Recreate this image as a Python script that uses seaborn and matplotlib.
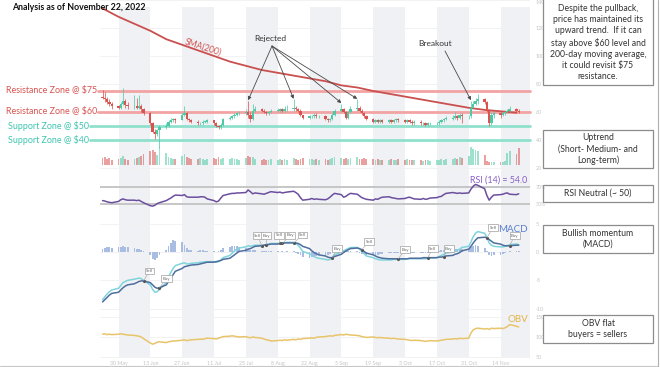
import numpy as np
import pandas as pd
import seaborn as sns
import matplotlib.pyplot as plt
from matplotlib.patches import Rectangle

W, H = 660, 367

# ---- data (one row = one trading week) ----
dates = pd.bdate_range("2022-05-23", "2022-11-22")
first_open = 71
closes = [70, 69, 67, 66, 64,  63, 66, 68, 65, 64,  64, 63, 64, 62, 59,
          52, 46, 44, 47, 49,  50, 53, 54, 55, 54,  58, 59, 55, 54, 53,
          52, 52, 53, 53, 54,  52, 50, 49, 51, 55,  56, 57, 58, 59, 59,
          60, 58, 55, 61, 62,  61, 60, 59, 60, 61,  61, 62, 61, 62, 62,
          63, 62, 61, 58, 56,  57, 57, 58, 57, 57,  55, 54, 55, 58, 61,
          62, 60, 56, 60, 62,  63, 61, 59, 57, 55,  53, 54, 53, 54, 53,
          54, 53, 54, 55, 54,  53, 54, 53, 52, 53,  52, 52, 51, 52, 52,
          52, 53, 54, 55, 55,  56, 57, 56, 58, 57,  57, 63, 66, 68, 69,
          67, 61, 52, 58, 59,  58, 59, 60, 61, 62,  61, 60]
highs = [76, 74, 71, 69, 67,  65, 67, 77, 69, 67,  72, 70, 72, 66, 63,
         60, 53, 48, 48, 51,  52, 54, 56, 56, 56,  59, 64, 60, 56, 55,
         54, 53, 54, 54, 55,  54, 53, 51, 52, 56,  57, 58, 59, 60, 61,
         62, 68, 60, 66, 64,  63, 62, 61, 61, 62,  63, 63, 63, 64, 65,
         69, 64, 63, 62, 58,  58, 58, 59, 59, 58,  58, 56, 56, 59, 62,
         66, 63, 61, 61, 64,  69, 64, 62, 60, 58,  56, 55, 55, 55, 55,
         55, 55, 55, 56, 56,  55, 55, 55, 54, 54,  54, 53, 53, 53, 53,
         53, 54, 55, 56, 57,  58, 60, 58, 59, 59,  58, 68, 68, 70, 73,
         70, 68, 62, 60, 61,  60, 60, 61, 62, 64,  63, 62]
lows = [69, 67, 66, 64, 62,  62, 62, 65, 63, 62,  62, 62, 62, 60, 58,
        51, 45, 41, 43, 34,  48, 49, 52, 53, 52,  54, 57, 54, 53, 52,
        51, 51, 51, 52, 52,  51, 49, 48, 48, 50,  54, 55, 56, 57, 58,
        58, 56, 53, 54, 60,  60, 59, 58, 58, 59,  60, 60, 60, 60, 61,
        61, 61, 60, 57, 55,  55, 56, 56, 56, 56,  54, 53, 53, 54, 57,
        60, 59, 55, 55, 59,  61, 60, 58, 56, 54,  52, 52, 52, 52, 52,
        52, 52, 52, 53, 53,  52, 52, 52, 51, 51,  51, 51, 50, 50, 51,
        51, 51, 52, 53, 54,  54, 55, 54, 55, 52,  55, 56, 62, 65, 66,
        66, 60, 50, 51, 56,  56, 57, 58, 59, 60,  59, 59]
volume = [7, 8, 6, 7, 5,  6, 7, 9, 6, 5,  6, 7, 8, 9, 11,  14, 15, 13, 10, 18,
          12, 8, 7, 6, 6,  9, 11, 8, 7, 6,  6, 7, 6, 5, 6,  7, 6, 8, 6, 7,
          6, 7, 6, 6, 5,  7, 9, 8, 8, 6,  5, 6, 5, 5, 6,  5, 6, 5, 6, 5,
          7, 6, 5, 6, 7,  6, 6, 5, 6, 5,  6, 5, 6, 7, 8,  7, 6, 7, 6, 7,
          8, 6, 6, 7, 6,  6, 5, 6, 5, 5,  5, 6, 5, 5, 6,  5, 6, 5, 5, 5,
          5, 4, 5, 5, 4,  5, 5, 6, 5, 6,  6, 7, 6, 8, 7,  9, 18, 16, 15, 14,
          10, 4, 3, 3, 3,  3, 3, 4, 12, 14,  11, 17]
rsi = [38, 37, 35, 34, 33,  36, 40, 42, 40, 39,  39, 38, 39, 36, 33,
       26, 25, 27, 31, 33,  38, 41, 44, 48, 51,  50, 52, 47, 46, 46,
       46, 47, 47, 46, 42,  38, 35, 37, 44, 50,  54, 55, 55, 56, 56,
       57, 63, 59, 54, 56,  54, 53, 55, 57, 59,  57, 58, 56, 57, 58,
       60, 57, 53, 45, 39,  41, 43, 41, 42, 41,  40, 42, 46, 51, 55,
       52, 46, 48, 52, 55,  53, 49, 45, 43, 41,  39, 42, 41, 44, 46,
       47, 45, 44, 43, 42,  43, 45, 46, 44, 42,  41, 43, 41, 42, 44,
       45, 47, 48, 52, 55,  57, 56, 55, 56, 55,  56, 65, 72, 76, 74,
       66, 50, 39, 46, 51,  52, 53, 55, 56, 53,  52, 54]
macd = [-8.4, -7.9, -7.4, -7.0, -6.7,  -6.4, -5.9, -5.4, -5.2, -5.0,
        -4.8, -4.7, -4.6, -4.7, -5.0,  -5.8, -6.6, -7.1, -7.0, -6.6,
        -5.4, -4.4, -3.6, -2.9, -2.4,  -2.0, -1.9, -2.1, -2.1, -2.0,
        -1.9, -1.8, -1.8, -1.7, -1.7,  -1.7, -1.8, -1.7, -1.4, -1.0,
        -0.6, -0.2, 0.2, 0.5, 0.7,  0.9, 1.1, 1.0, 1.1, 1.2,
        1.2, 1.2, 1.3, 1.4, 1.5,  1.5, 1.5, 1.6, 1.6, 1.7,
        1.7, 1.5, 1.2, 0.7, 0.1,  -0.3, -0.6, -0.8, -1.0, -1.1,
        -1.3, -1.4, -1.3, -1.0, -0.5,  0.0, 0.2, 0.4, 0.6, 0.8,
        0.8, 0.5, 0.1, -0.3, -0.7,  -1.0, -1.2, -1.3, -1.4, -1.4,
        -1.4, -1.4, -1.3, -1.3, -1.3,  -1.3, -1.2, -1.2, -1.2, -1.2,
        -1.2, -1.2, -1.2, -1.1, -1.1,  -1.0, -0.8, -0.6, -0.4, -0.2,
        0.0, 0.2, 0.3, 0.5, 0.8,  1.0, 1.8, 2.7, 3.3, 3.6,
        3.3, 2.6, 1.6, 1.2, 1.0,  0.9, 0.9, 1.0, 1.1, 1.3,  1.4, 1.3]
signal = [-8.8, -8.4, -8.0, -7.6, -7.3,  -7.1, -6.7, -6.3, -6.0, -5.8,
          -5.6, -5.4, -5.2, -5.1, -5.1,  -5.4, -5.8, -6.2, -6.4, -6.3,
          -5.8, -5.2, -4.6, -4.0, -3.4,  -2.9, -2.6, -2.5, -2.4, -2.3,
          -2.2, -2.1, -2.0, -1.9, -1.8,  -1.8, -1.7, -1.6, -1.5, -1.3,
          -1.1, -0.8, -0.5, -0.2, 0.1,  0.3, 0.5, 0.6, 0.8, 1.0,
          1.1, 1.2, 1.3, 1.3, 1.4,  1.4, 1.5, 1.5, 1.6, 1.6,
          1.6, 1.6, 1.5, 1.3, 1.0,  0.6, 0.2, -0.1, -0.3, -0.5,
          -0.7, -0.9, -1.0, -1.0, -0.8,  -0.4, -0.1, 0.2, 0.4, 0.6,
          0.7, 0.6, 0.4, 0.1, -0.2,  -0.5, -0.7, -0.9, -1.0, -1.1,
          -1.2, -1.2, -1.2, -1.2, -1.2,  -1.2, -1.2, -1.1, -1.1, -1.1,
          -1.1, -1.0, -1.0, -1.0, -1.0,  -1.0, -0.9, -0.9, -0.8, -0.7,
          -0.6, -0.4, -0.3, -0.1, 0.2,  0.5, 1.0, 1.6, 2.1, 2.5,
          2.6, 2.5, 2.2, 1.9, 1.6,  1.4, 1.2, 1.1, 1.1, 1.1,  1.2, 1.2]
hist = [0.6, 0.7, 0.8, 0.8, 0.7,  0.8, 0.9, 1.0, 0.9, 0.8,  0.7, 0.6, 0.5, 0.3, 0.1,
        -0.6, -1.2, -1.4, -1.1, -0.6,  0.3, 1.0, 1.6, 2.1, 2.0,  1.7, 1.3, 0.7, 0.4, 0.3,
        0.2, 0.3, 0.3, 0.2, 0.2,  0.1, 0.0, 0.2, 0.4, 0.7,  0.9, 1.0, 1.1, 1.0, 0.9,
        0.7, 0.6, 0.4, 0.3, 0.3,  0.2, 0.1, 0.1, 0.1, 0.1,  0.1, 0.0, 0.1, 0.0, 0.1,
        0.1, -0.1, -0.3, -0.6, -0.9,  -1.0, -0.9, -0.8, -0.7, -0.6,  -0.6, -0.5, -0.3, 0.0, 0.3,
        0.4, 0.3, 0.2, 0.2, 0.2,  0.1, -0.1, -0.3, -0.4, -0.5,  -0.6, -0.6, -0.5, -0.4, -0.3,
        -0.2, -0.2, -0.1, -0.1, -0.1,  -0.1, 0.0, -0.1, -0.1, -0.1,  -0.1, -0.2, -0.2, -0.1, -0.1,
        0.0, 0.1, 0.3, 0.4, 0.5,  0.6, 0.6, 0.6, 0.6, 0.6,  0.5, 0.8, 1.1, 1.2, 1.1,
        0.7, 0.1, -0.6, -0.7, -0.6,  -0.5, -0.3, -0.1, 0.0, 0.2,  0.2, 0.1]
obv = [107, 108, 106, 107, 106,  107, 108, 107, 106, 105,  104, 103, 102, 100, 96,
       85, 82, 84, 87, 88,  86, 88, 89, 90, 90,  92, 93, 91, 92, 93,
       94, 95, 94, 96, 97,  96, 95, 97, 99, 101,  102, 103, 102, 101, 100,
       101, 99, 98, 100, 99,  97, 95, 93, 92, 90,  91, 92, 91, 93, 92,
       94, 93, 95, 94, 96,  97, 98, 97, 99, 100,  101, 102, 103, 102, 104,
       106, 105, 107, 106, 105,  104, 103, 101, 100, 99,  100, 99, 98, 99, 98,
       97, 96, 97, 96, 95,  94, 93, 92, 91, 92,  91, 90, 89, 90, 91,
       90, 91, 92, 93, 94,  95, 96, 95, 97, 96,  97, 110, 118, 121, 122,
       120, 121, 119, 122, 121,  122, 121, 123, 126, 131,  127, 125]
sma_dates = pd.date_range("2022-05-23", periods=27, freq="7D")
sma200 = [134, 128, 123, 118, 112, 108, 104, 100, 96, 93, 90, 88, 86, 84,
          82, 79, 77.5, 75, 73, 71, 69, 67, 65, 63, 61.5, 60.5, 59.5]

zone_levels = [75, 60, 50, 40]
zone_labels = ["Resistance Zone @ $75", "Resistance Zone @ $60",
               "Support Zone @ $50", "Support Zone @ $40"]
# MACD crossover flags: (day index, label, box offset x px, box offset y px)
flags = [(14, "Sell", 6, 10), (19, "Buy", 7, 9), (50, "Sell", -4, 10),
         (52, "Buy", 0, 9), (56, "Sell", -1, 8), (57, "Buy", 8, 8),
         (60, "Sell", 9, 8), (73, "Buy", 5, 9), (82, "Sell", 7, 8),
         (94, "Buy", 7, 9), (103, "Sell", 5, 9), (108, "Buy", 5, 8),
         (121, "Sell", 6, 10), (129, "Buy", 5, 10)]
rejected_idx = [46, 60, 75, 80]
breakout_idx = 116

notes = [(-2, 85, "Despite the pullback,\nprice has maintained its\nupward trend.  If it can\n"
                  "stay above $60 level and\n200-day moving average,\nit could revisit $75\nresistance."),
         (130, 168, "Uptrend\n(Short- Medium- and\nLong-term)"),
         (185, 202, "RSI Neutral (~ 50)"),
         (225, 253, "Bullish momentum\n(MACD)"),
         (315, 343, "OBV flat\nbuyers = sellers")]

# ---- styling ----
sns.set_theme(style="white")
plt.rcParams["font.family"] = ["Lato", "DejaVu Sans"]

GREEN, RED = "#4fc9a4", "#d9534f"
TICK = "#c4c4c4"

day0 = pd.Timestamp("2022-05-30")
days = np.asarray((dates - day0).days, dtype=float)
opens = np.array([first_open] + closes[:-1], dtype=float)
closes_a = np.array(closes, dtype=float)
up = closes_a >= opens
cols = np.where(up, GREEN, RED)


def day_at(px):
    return (px - 118.5) / 2.274


XLIM = (day_at(100), day_at(530))

fig = plt.figure(figsize=(W / 100, H / 100), dpi=100)
fig.patch.set_facecolor("white")


def px_axes(x0, y0, x1, y1, **kw):
    return fig.add_axes([x0 / W, 1 - y1 / H, (x1 - x0) / W, (y1 - y0) / H], **kw)


# background stripes every other fortnight
bg = px_axes(100, 7, 530, 357)
bg.set_xlim(XLIM)
bg.axis("off")
for k in range(7):
    bg.axvspan(28 * k, 28 * k + 14, color="#f0f1f5", lw=0)


def style(ax, ylim, ticks, labels):
    ax.set_facecolor("none")
    ax.set_xlim(XLIM)
    ax.set_ylim(ylim)
    for s in ax.spines.values():
        s.set_visible(False)
    ax.yaxis.tick_right()
    ax.set_yticks(ticks)
    ax.set_yticklabels(labels)
    ax.tick_params(axis="y", length=0, labelsize=3.8, labelcolor=TICK, pad=4)
    ax.tick_params(axis="x", length=0, labelbottom=False)
    ax.grid(axis="y", color="#f0f0f0", lw=0.6)
    ax.set_axisbelow(True)
    ax.set_xlabel("")
    ax.set_ylabel("")


# ---- price pane ----
pax = px_axes(100, 0, 530, 172)
price_ticks = [20, 40, 60, 80, 100, 120, 140]
style(pax, (17.14, 140), price_ticks, [str(t) for t in price_ticks])
pax.get_yticklabels()[-1].set_va("top")

for lvl, lab in zip(zone_levels, zone_labels):
    res = lvl >= 60
    c_line = "#f2a3a3" if res else "#8fe1cd"
    c_txt = "#d9534f" if res else "#3cc6b0"
    start = day_at(98) if res else day_at(90)
    pax.plot([start, XLIM[1]], [lvl, lvl], color=c_line, lw=2.0, clip_on=False, zorder=1)
    tx = day_at(97) if res else day_at(89)
    pax.text(tx, lvl, lab, ha="right", va="center", fontsize=6.4, color=c_txt, clip_on=False)

sns.lineplot(x=(sma_dates - day0).days, y=sma200, ax=pax, color="#c9504e", lw=1.3, zorder=3)

pax.vlines(days, lows, highs, colors=cols, lw=0.7, alpha=0.75, zorder=4)
body = np.maximum(np.abs(closes_a - opens), 0.4)
pax.bar(days, body, bottom=np.minimum(opens, closes_a), width=1.0, color=cols, lw=0, zorder=5)

vax = px_axes(100, 140, 530, 165)
vax.set_xlim(XLIM)
vax.set_ylim(0, 25)
vax.axis("off")
vax.bar(days, volume, width=0.8, color=cols, alpha=0.55, lw=0)

arrow = dict(arrowstyle="-|>", color="#4a4a4a", lw=0.6, mutation_scale=5, shrinkA=0, shrinkB=0)
for i in rejected_idx:
    pax.annotate("", xy=(days[i], highs[i] + 0.4), xycoords="data",
                 xytext=(272, H - 46), textcoords="figure pixels", arrowprops=arrow)
pax.annotate("", xy=(days[breakout_idx], highs[breakout_idx] + 0.4), xycoords="data",
             xytext=(445, H - 51), textcoords="figure pixels", arrowprops=arrow)

# ---- RSI pane ----
rax = px_axes(100, 172, 530, 217)
style(rax, (-0.6, 105.3), [30, 70], ["30%", "70%"])
rax.grid(False)
rax.axhline(70, color="#c2c2c2", lw=1.3)
rax.axhline(30, color="#c2c2c2", lw=1.3)
sns.lineplot(x=days, y=rsi, ax=rax, color="#6b4f9e", lw=1.1)

# ---- MACD pane ----
max_ = px_axes(100, 217, 530, 312)
style(max_, (-10.58, 6.17), [5, 0, -5, -10], ["5", "0", "-5", "-10"])
max_.bar(days, hist, width=0.8, color="#a9bce2", lw=0, zorder=2)
sns.lineplot(x=days, y=macd, ax=max_, color="#7fd4dc", lw=1.1, zorder=3)
sns.lineplot(x=days, y=signal, ax=max_, color="#4f6e9e", lw=1.1, zorder=4)
for i, lab, dx, dy in flags:
    max_.scatter(days[i], signal[i], s=5, color="#555555", zorder=6, lw=0)
    max_.annotate(lab, xy=(days[i], signal[i]), xytext=(dx, dy), textcoords="offset pixels",
                  ha="center", va="center", fontsize=3.2, color="#666666", zorder=7,
                  bbox=dict(boxstyle="square,pad=0.3", fc="white", ec="#a0a0a0", lw=0.5),
                  arrowprops=dict(arrowstyle="-", color="#a0a0a0", lw=0.4, shrinkA=0, shrinkB=0))

# ---- OBV pane ----
oax = px_axes(100, 312, 530, 360)
style(oax, (42.5, 162.5), [150, 100, 50], ["150", "100", "50"])
sns.lineplot(x=days, y=obv, ax=oax, color="#e8c46a", lw=1.1)
tick_dates = pd.date_range("2022-05-30", periods=13, freq="14D")
oax.set_xticks((tick_dates - day0).days)
oax.set_xticklabels([f"{d.day} {d:%b}" for d in tick_dates])
oax.tick_params(axis="x", labelbottom=True, labelsize=3.8, labelcolor=TICK, pad=1)

# overlay in pixel coordinates for titles and note boxes, on top of everything
ov = px_axes(0, 0, W, H)
ov.set_xlim(0, W)
ov.set_ylim(H, 0)
ov.axis("off")
ov.set_zorder(10)

ov.text(12, 7, "Analysis as of November 22, 2022", fontsize=6.3, weight="bold",
        color="#111111", va="center")
ov.text(203, 47, "SMA(200)", fontsize=6.2, color="#d0534f", rotation=-18,
        ha="center", va="center")
ov.text(270, 38, "Rejected", fontsize=6.0, color="#333333", ha="center", va="center")
ov.text(435, 44, "Breakout", fontsize=6.0, color="#333333", ha="center", va="center")
ov.text(527, 180, "RSI (14) = 54.0", fontsize=6.4, color="#8a5fc4", ha="right", va="center")
ov.text(528, 229, "MACD", fontsize=7, color="#5a7fcf", ha="right", va="center")
ov.text(528, 320, "OBV", fontsize=7, color="#e2b548", ha="right", va="center")

for y0, y1, txt in notes:
    ov.add_patch(Rectangle((543, y0), 110, y1 - y0, fill=False, ec="#8c8c8c", lw=0.9))
    ov.text(598, (y0 + y1) / 2 + (1 if y0 < 0 else 0), txt, ha="center", va="center",
            fontsize=6.2, color="#333333", linespacing=1.3)

ov.plot([0, 658], [365.5, 365.5], color="#c8c8c8", lw=0.8)
ov.plot([657.5, 657.5], [0, 366], color="#b0b0b0", lw=0.8)

fig.savefig("out.png", dpi=100)
